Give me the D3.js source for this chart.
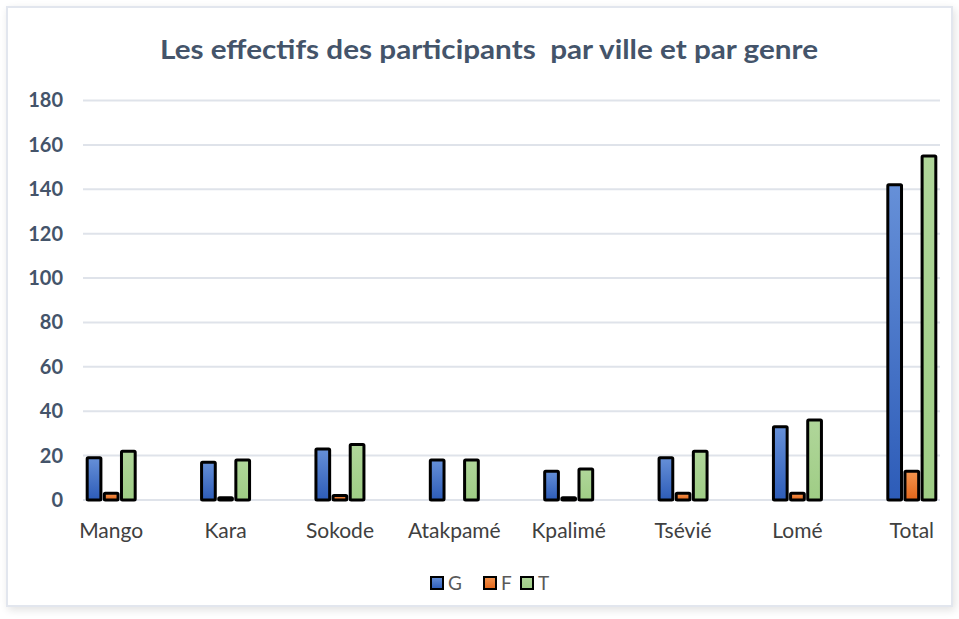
<!DOCTYPE html>
<html><head><meta charset="utf-8">
<script src="https://cdn.jsdelivr.net/npm/d3@7"></script>
<style>
html,body{margin:0;padding:0;background:#fff;}
svg{display:block;}
</style></head>
<body>
<svg id="chart" width="959" height="619"></svg>
<script>
const title = "Les effectifs des participants  par ville et par genre";
const categories = ["Mango","Kara","Sokode","Atakpamé","Kpalimé","Tsévié","Lomé","Total"];
const seriesNames = ["G","F","T"];
const valuesG = [19,17,23,18,13,19,33,142];
const valuesF = [3,1,2,0,1,3,3,13];
const valuesT = [22,18,25,18,14,22,36,155];
const yTicks = [0,20,40,60,80,100,120,140,160,180];

const seriesValues = {G: valuesG, F: valuesF, T: valuesT};
const data = categories.map((c,i)=>({cat:c, vals: seriesNames.map(s=>({key:s, value:seriesValues[s][i]}))}));

const svg = d3.select("#chart");

// frame
const defs = svg.append("defs");
const sh = defs.append("filter").attr("id","shadow").attr("x","-5%").attr("y","-5%").attr("width","110%").attr("height","110%");
sh.append("feGaussianBlur").attr("in","SourceAlpha").attr("stdDeviation",4);
sh.append("feOffset").attr("dx",2).attr("dy",3).attr("result","ob");
sh.append("feComponentTransfer").append("feFuncA").attr("type","linear").attr("slope",0.12);
const m = sh.append("feMerge"); m.append("feMergeNode"); m.append("feMergeNode").attr("in","SourceGraphic");

svg.append("rect").attr("x",7).attr("y",7).attr("width",945).attr("height",599)
  .attr("fill","#fff").attr("stroke","#e2e6ee").attr("stroke-width",2).attr("filter","url(#shadow)");

const gradColors = {G:["#6690d8","#2d5cb8"], F:["#f5954f","#e2661a"], T:["#b0d69a","#9fcd85"]};
seriesNames.forEach(s=>{
  const g = defs.append("linearGradient").attr("id","grad"+s).attr("x1",0).attr("y1",0).attr("x2",0).attr("y2",1);
  g.append("stop").attr("offset","0%").attr("stop-color",gradColors[s][0]);
  g.append("stop").attr("offset","100%").attr("stop-color",gradColors[s][1]);
});

const y = d3.scaleLinear().domain([0,180]).range([500,100.5]);
const x0 = d3.scaleBand().domain(categories).range([54,969]).paddingInner(0).paddingOuter(0);
const x1 = d3.scaleBand().domain(seriesNames).range([x0.bandwidth()/2-24, x0.bandwidth()/2+24]).paddingInner(0.2);

// gridlines
svg.append("g").selectAll("line").data(yTicks).join("line")
  .attr("x1",83).attr("x2",940).attr("y1",d=>y(d)).attr("y2",d=>y(d))
  .attr("stroke","#dfe3ea").attr("stroke-width",2);

// y axis labels
const yAxis = d3.axisLeft(y).tickValues(yTicks).tickSize(0).tickPadding(0);
const ya = svg.append("g").attr("transform","translate(63,0)").call(yAxis);
ya.select(".domain").remove();
ya.selectAll("text").attr("font-family","Lato, 'Open Sans', sans-serif").attr("font-weight","bold")
  .attr("font-size",20).attr("fill","#44546a");

// bars
const groups = svg.append("g").selectAll("g").data(data).join("g")
  .attr("transform",d=>`translate(${x0(d.cat)},0)`);
groups.selectAll("rect").data(d=>d.vals).join("rect")
  .attr("x",d=>x1(d.key)).attr("width",x1.bandwidth())
  .attr("y",d=>y(d.value)).attr("height",d=>y(0)-y(d.value))
  .attr("rx",1)
  .attr("fill",d=>`url(#grad${d.key})`).attr("stroke","#000").attr("stroke-width",3);

// x axis labels
const xAxis = d3.axisBottom(x0).tickSize(0).tickPadding(0);
const xa = svg.append("g").attr("transform","translate(0,523)").call(xAxis);
xa.select(".domain").remove();
xa.selectAll("text").attr("font-family","Lato, 'Open Sans', sans-serif")
  .attr("font-size",21).attr("fill","#404040");

// title
const t = svg.append("text").attr("x",489).attr("y",59).attr("text-anchor","middle")
  .attr("font-family","Lato, 'Open Sans', sans-serif").attr("font-weight","bold").attr("font-size",27)
  .attr("fill","#44546a").attr("xml:space","preserve").text(title);
t.attr("textLength",658).attr("lengthAdjust","spacingAndGlyphs");

// legend
const legX = [431,484,521];
const leg = svg.append("g").selectAll("g").data(seriesNames).join("g")
  .attr("transform",(d,i)=>`translate(${legX[i]},577)`);
leg.append("rect").attr("width",12).attr("height",12)
  .attr("fill",d=>`url(#grad${d})`).attr("stroke","#000").attr("stroke-width",2);
leg.append("text").attr("x",17).attr("y",12.5).text(d=>d)
  .attr("font-family","Lato, 'Open Sans', sans-serif").attr("font-size",19).attr("fill","#595959");
</script>
</body></html>
